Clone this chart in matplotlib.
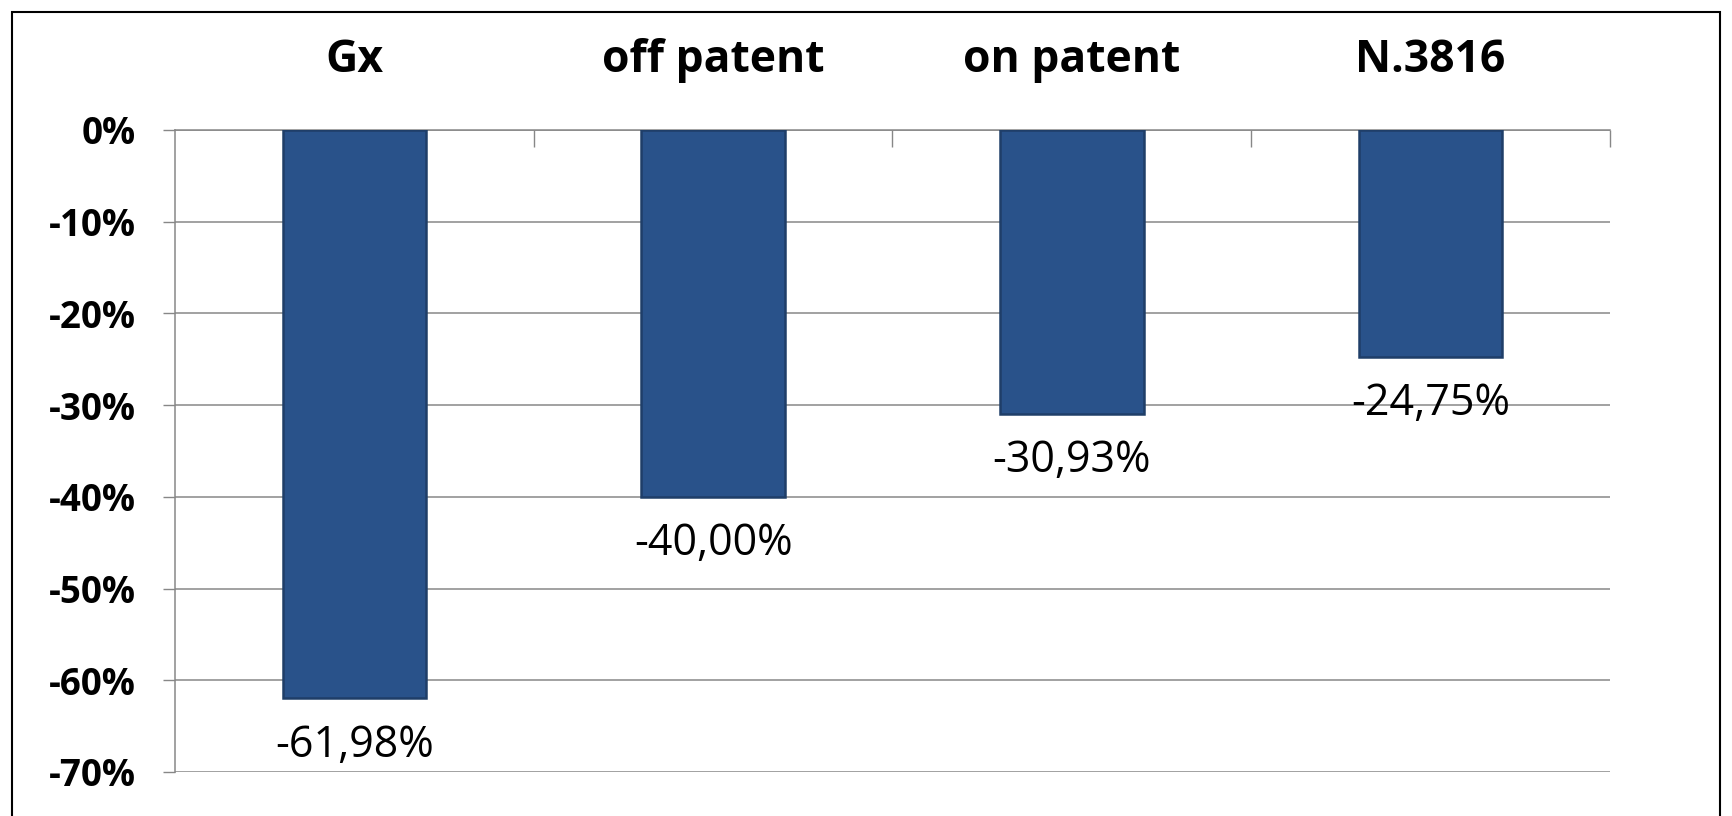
import matplotlib
matplotlib.use('Agg')
import matplotlib.pyplot as plt
from matplotlib.patches import Rectangle
import numpy as np

categories = ['Gx', 'off patent', 'on patent', 'N.3816']
values = [-61.98, -40.00, -30.93, -24.75]
yticks = [0, -10, -20, -30, -40, -50, -60, -70]

plt.rcParams['font.family'] = ['Open Sans', 'DejaVu Sans']

fig = plt.figure(figsize=(17.33, 8.16), dpi=100)
ax = fig.add_axes([175/1733, 1-772/816, (1610-175)/1733, (772-130)/816])

grid_c = '#878787'
x = np.arange(len(categories))
bars = ax.bar(x, values, width=0.40, color='#29528A', edgecolor='#1F3E68',
              linewidth=1.8, zorder=3)

ax.set_xlim(-0.5, len(categories)-0.5)
ax.set_ylim(-70, 0)

# y axis
ax.set_yticks(yticks)
ax.set_yticklabels(['%d%%' % v for v in yticks], fontsize=26.5, fontweight='bold')
ax.tick_params(axis='y', length=9, width=1, color=grid_c, pad=19)
ax.yaxis.grid(True, color=grid_c, linewidth=1.1, zorder=0)

# category labels on top, tick marks between categories
ax.xaxis.tick_top()
ax.set_xticks(x)
ax.set_xticklabels(categories, fontsize=32, fontweight='bold')
ax.set_xticks(np.arange(len(categories)) + 0.5, minor=True)
ax.tick_params(axis='x', which='major', length=0, pad=34)
ax.tick_params(axis='x', which='minor', direction='in', length=12, width=1,
               color=grid_c, top=True, bottom=False)

for s in ['right', 'bottom']:
    ax.spines[s].set_visible(False)
ax.spines['left'].set_color(grid_c)
ax.spines['top'].set_color(grid_c)
ax.spines['left'].set_linewidth(1.1)
ax.spines['top'].set_linewidth(1.1)

for xi, v in zip(x, values):
    ax.annotate(('%.2f%%' % v).replace('.', ','), (xi, v),
                xytext=(0, -34), textcoords='offset points',
                ha='center', va='center', fontsize=31, zorder=4)

fig.patches.append(Rectangle((12/1733, -0.05), (1720-12)/1733, 1.05-12/816,
                             transform=fig.transFigure, fill=False,
                             edgecolor='black', linewidth=1.5))

fig.savefig('out.png', dpi=100)
